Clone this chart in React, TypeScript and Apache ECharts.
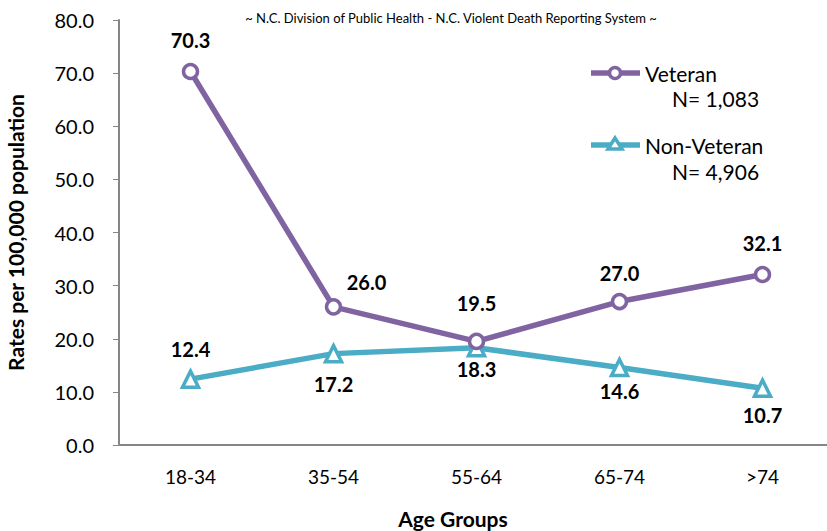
import React, { useEffect, useRef } from "react";
import * as echarts from "echarts";

const categories = ["18-34", "35-54", "55-64", "65-74", ">74"];
const veteran = [70.3, 26.0, 19.5, 27.0, 32.1];
const nonVeteran = [12.4, 17.2, 18.3, 14.6, 10.7];
const veteranN = "N= 1,083";
const nonVeteranN = "N= 4,906";

const PURPLE = "#8064A2";
const TEAL = "#4BACC6";
const FONT = "Lato, 'Open Sans', sans-serif";

export default function App() {
  const ref = useRef<HTMLDivElement>(null);
  useEffect(() => {
    if (!ref.current) return;
    const chart = echarts.init(ref.current, null, { renderer: "svg" });
    const vetLabel: any[] = [
      { position: "top", distance: 13 },
      { position: [22, -26] },
      { position: "top", distance: 20 },
      { position: "top", distance: 10 },
      { position: "top", distance: 13 },
    ];
    const nonLabel: any[] = [
      { position: "top", distance: 10 },
      { position: "bottom", distance: 11 },
      { position: "bottom", distance: 1 },
      { position: "bottom", distance: 4 },
      { position: "bottom", distance: 7 },
    ];
    const labelBase = {
      show: true,
      color: "#000",
      fontWeight: "bold",
      fontSize: 20,
      fontFamily: FONT,
      formatter: (p: any) => Number(p.value).toFixed(1),
    };
    chart.setOption({
      animation: false,
      textStyle: { fontFamily: FONT },
      grid: { left: 119, width: 715, top: 20, bottom: 86, containLabel: false, outerBoundsMode: "none" },
      xAxis: {
        type: "category",
        data: categories,
        boundaryGap: true,
        axisLine: { lineStyle: { color: "#868686", width: 2 } },
        axisTick: { alignWithLabel: true, length: 5, lineStyle: { color: "#868686" } },
        axisLabel: { color: "#000", fontSize: 19, margin: 22, fontFamily: FONT },
      },
      yAxis: {
        type: "value",
        min: 0,
        max: 80,
        interval: 10,
        name: "Rates per 100,000 population",
        nameLocation: "middle",
        nameGap: 93,
        nameTextStyle: { fontSize: 21, fontWeight: "bold", color: "#000", fontFamily: FONT },
        axisLine: { show: true, lineStyle: { color: "#868686", width: 2 } },
        axisTick: { show: true, length: 6, lineStyle: { color: "#868686" } },
        splitLine: { show: false },
        axisLabel: {
          color: "#000",
          fontSize: 20,
          margin: 25,
          fontFamily: FONT,
          formatter: (v: number) => v.toFixed(1),
        },
      },
      series: [
        {
          name: "Veteran",
          type: "line",
          data: veteran.map((v, i) => ({ value: v, label: vetLabel[i] })),
          symbol: "circle",
          symbolSize: 14,
          lineStyle: { color: PURPLE, width: 5.5 },
          itemStyle: { color: "#fff", borderColor: PURPLE, borderWidth: 3.5 },
          label: labelBase,
          z: 3,
        },
        {
          name: "Non-Veteran",
          type: "line",
          data: nonVeteran.map((v, i) => ({ value: v, label: nonLabel[i] })),
          symbol: "triangle",
          symbolSize: 16,
          lineStyle: { color: TEAL, width: 5.5 },
          itemStyle: { color: "#fff", borderColor: TEAL, borderWidth: 3.5 },
          label: labelBase,
          z: 2,
        },
      ],
      graphic: [
        {
          type: "text",
          x: 451,
          y: 18,
          style: {
            text: "~ N.C. Division of Public Health - N.C. Violent Death Reporting System ~",
            fontSize: 13,
            fill: "#000",
            fontFamily: FONT,
            align: "center",
            verticalAlign: "middle",
          },
        },
        {
          type: "text",
          x: 453,
          y: 518,
          style: {
            text: "Age Groups",
            fontSize: 21,
            fontWeight: "bold",
            fill: "#000",
            fontFamily: FONT,
            align: "center",
            verticalAlign: "middle",
          },
        },
        // Legend: Veteran
        { type: "line", shape: { x1: 591, y1: 73, x2: 640, y2: 73 }, style: { stroke: PURPLE, lineWidth: 5.5 } },
        { type: "circle", shape: { cx: 615, cy: 73, r: 5.5 }, style: { fill: "#fff", stroke: PURPLE, lineWidth: 3.5 } },
        { type: "text", x: 645, y: 73, style: { text: "Veteran", fontSize: 21, fill: "#000", fontFamily: FONT, verticalAlign: "middle" } },
        { type: "text", x: 672, y: 98, style: { text: veteranN, fontSize: 21, fill: "#000", fontFamily: FONT, verticalAlign: "middle" } },
        // Legend: Non-Veteran
        { type: "line", shape: { x1: 591, y1: 145, x2: 640, y2: 145 }, style: { stroke: TEAL, lineWidth: 5.5 } },
        { type: "polygon", shape: { points: [[615, 138], [608, 149], [622, 149]] }, style: { fill: "#fff", stroke: TEAL, lineWidth: 3.5 } },
        { type: "text", x: 645, y: 145, style: { text: "Non-Veteran", fontSize: 21, fill: "#000", fontFamily: FONT, verticalAlign: "middle" } },
        { type: "text", x: 672, y: 171, style: { text: nonVeteranN, fontSize: 21, fill: "#000", fontFamily: FONT, verticalAlign: "middle" } },
      ],
    });
    return () => chart.dispose();
  }, []);
  return <div ref={ref} style={{ width: 827, height: 531, position: "absolute", left: 0, top: 0 }} />;
}
